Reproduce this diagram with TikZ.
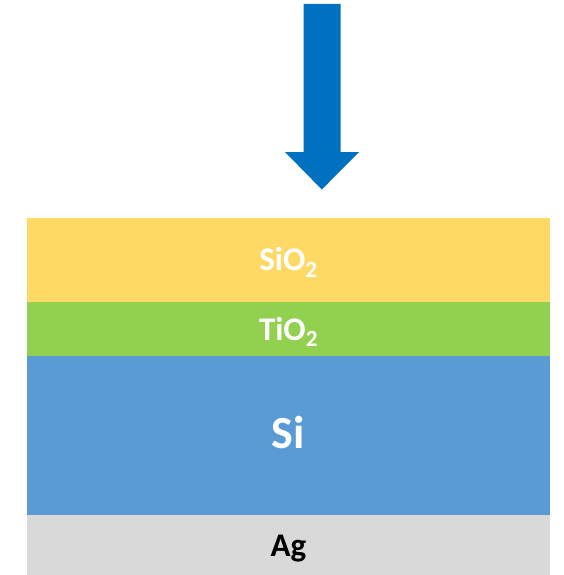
\documentclass[tikz,border=0pt]{standalone}
\usepackage{fontspec}
\setmainfont{Carlito}
\definecolor{oxide}{HTML}{FFD966}
\definecolor{titania}{HTML}{92D050}
\definecolor{silicon}{HTML}{5B9BD5}
\definecolor{silver}{HTML}{D9D9D9}
\definecolor{beam}{HTML}{0070C0}
\tikzset{
  layer/.style={fill=#1, draw=none},
  lbl/.style={anchor=base, inner sep=0pt, font=\bfseries\fontsize{33}{33}\selectfont, text=white},
}
\begin{document}
\begin{tikzpicture}[x=1pt,y=-1pt]
\useasboundingbox (0,0) rectangle (564,575);
% stack of layers
\path[layer=oxide]   (27,217.5) rectangle (550,301.7);
\path[layer=titania] (27,301.7) rectangle (550,355.7);
\path[layer=silicon] (27,355.7) rectangle (550,514.5);
\path[layer=silver]  (27,514.5) rectangle (550,575);
% incident light
\fill[beam] (303.5,4) -- (340.5,4) -- (340.5,152) -- (359,152) -- (321.8,189.5)
  -- (285,152) -- (303.5,152) -- cycle;
% labels
\node[lbl] (sio2) at (288.5,270.7) {SiO\textsubscript{2}};
\node[lbl] (tio2) at (288.5,340) {TiO\textsubscript{2}};
\node[lbl, font=\bfseries\fontsize{46}{46}\selectfont] (si) at (288.5,448.3) {Si};
\node[lbl, text=black] (ag) at (288.5,556.7) {Ag};
\end{tikzpicture}
\end{document}
